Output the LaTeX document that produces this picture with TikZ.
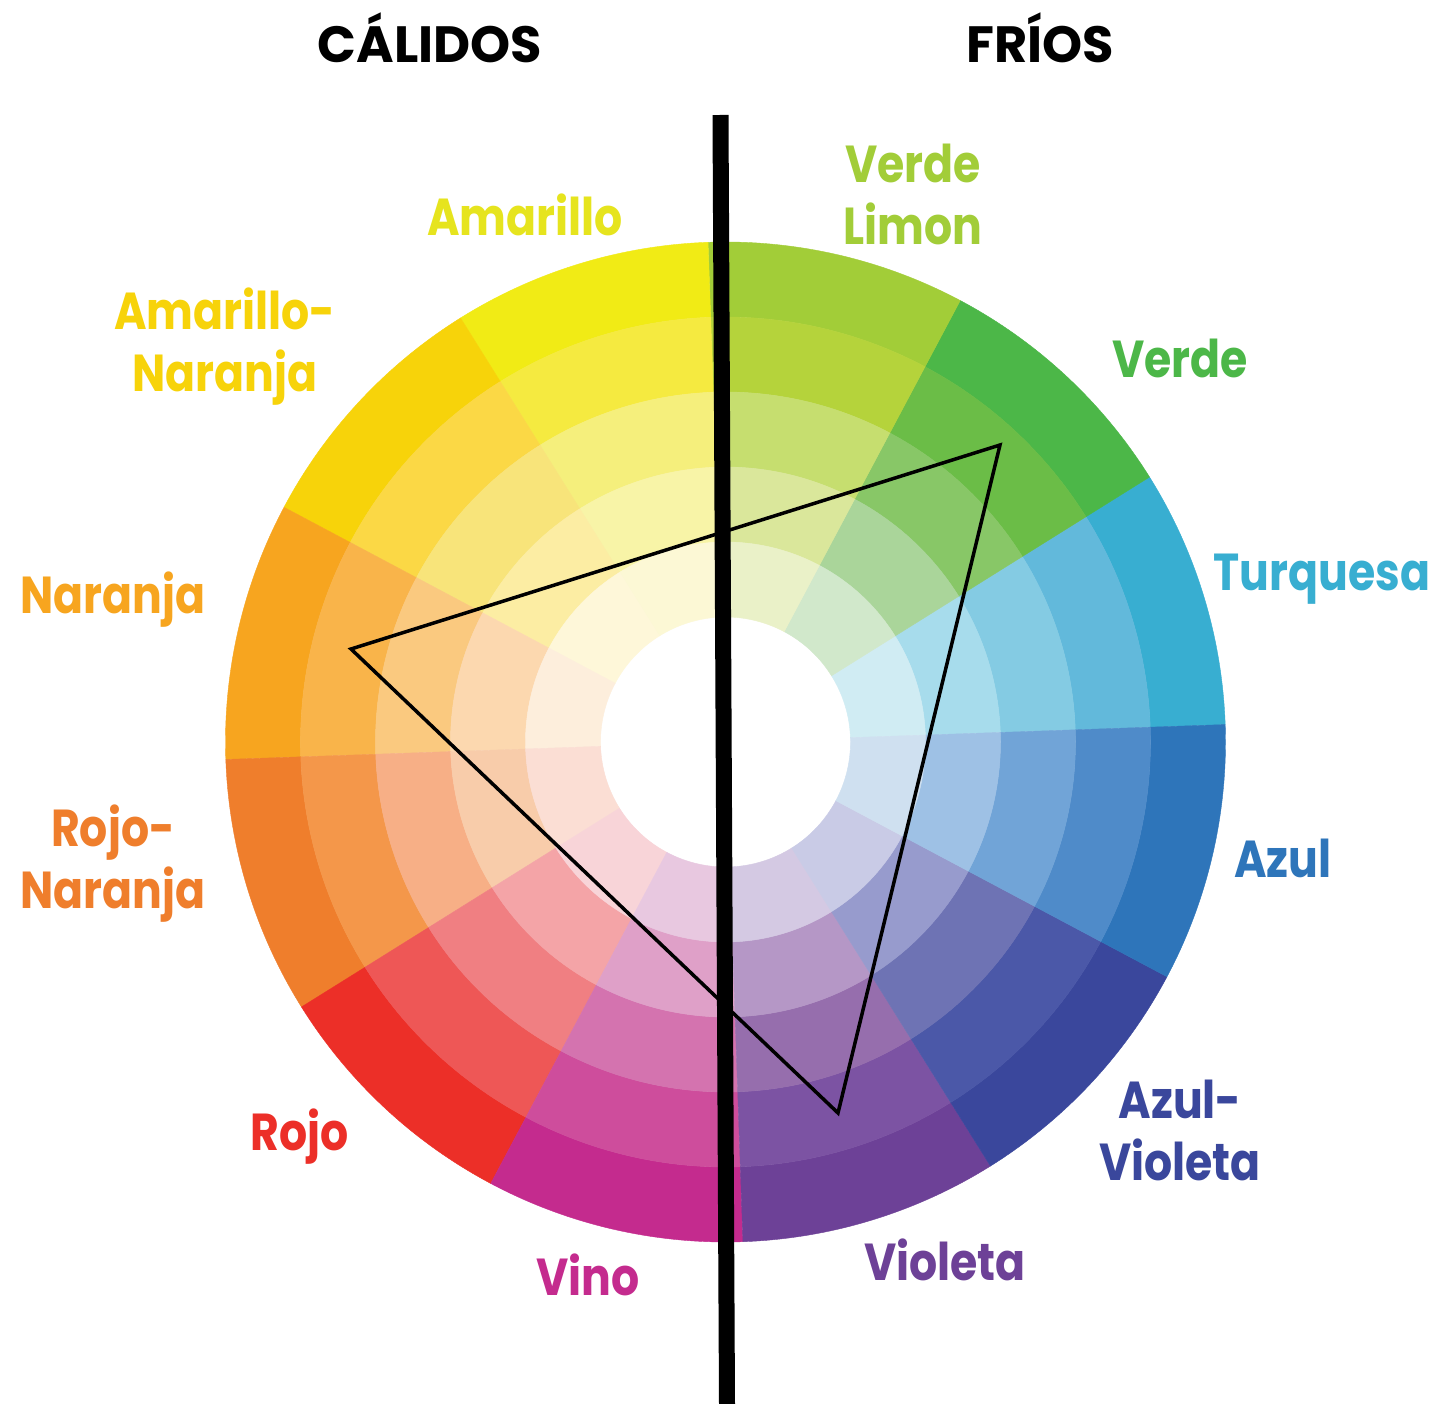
\documentclass[tikz,border=0pt]{standalone}
\usepackage{fontspec}
\setmainfont{Poppins}[FakeStretch=0.85]
\newfontfamily\titlefont{Poppins}
% ring colours: s<segment>r<ring>, ring 1 = outer
\definecolor{s0r1}{HTML}{38AED1}\definecolor{s0r2}{HTML}{62B9DB}\definecolor{s0r3}{HTML}{84CBE3}\definecolor{s0r4}{HTML}{A7DCEC}\definecolor{s0r5}{HTML}{D0ECF3}
\definecolor{s1r1}{HTML}{4CB748}\definecolor{s1r2}{HTML}{6BBD47}\definecolor{s1r3}{HTML}{88C767}\definecolor{s1r4}{HTML}{AAD59A}\definecolor{s1r5}{HTML}{D1E8CB}
\definecolor{s2r1}{HTML}{A2CD38}\definecolor{s2r2}{HTML}{B5D33B}\definecolor{s2r3}{HTML}{C6DE6F}\definecolor{s2r4}{HTML}{DAE79B}\definecolor{s2r5}{HTML}{EAF1C8}
\definecolor{s3r1}{HTML}{F1EB15}\definecolor{s3r2}{HTML}{F5EA40}\definecolor{s3r3}{HTML}{F5EF7C}\definecolor{s3r4}{HTML}{F8F4A7}\definecolor{s3r5}{HTML}{FCF8D5}
\definecolor{s4r1}{HTML}{F7D30A}\definecolor{s4r2}{HTML}{FBD845}\definecolor{s4r3}{HTML}{F8E47A}\definecolor{s4r4}{HTML}{FCEDA3}\definecolor{s4r5}{HTML}{FEF7D9}
\definecolor{s5r1}{HTML}{F7A51F}\definecolor{s5r2}{HTML}{F9B44A}\definecolor{s5r3}{HTML}{FAC97F}\definecolor{s5r4}{HTML}{FCD8AF}\definecolor{s5r5}{HTML}{FDEEDC}
\definecolor{s6r1}{HTML}{EF7E2C}\definecolor{s6r2}{HTML}{F4974A}\definecolor{s6r3}{HTML}{F7AF86}\definecolor{s6r4}{HTML}{F8CCAA}\definecolor{s6r5}{HTML}{FBDED4}
\definecolor{s7r1}{HTML}{EC2F28}\definecolor{s7r2}{HTML}{EE5756}\definecolor{s7r3}{HTML}{F07F82}\definecolor{s7r4}{HTML}{F4A4A7}\definecolor{s7r5}{HTML}{F8D4D8}
\definecolor{s8r1}{HTML}{C42B8E}\definecolor{s8r2}{HTML}{CE4D9C}\definecolor{s8r3}{HTML}{D473AF}\definecolor{s8r4}{HTML}{DFA0C8}\definecolor{s8r5}{HTML}{E8C8E0}
\definecolor{s9r1}{HTML}{6D4197}\definecolor{s9r2}{HTML}{7C53A3}\definecolor{s9r3}{HTML}{966EAD}\definecolor{s9r4}{HTML}{B597C6}\definecolor{s9r5}{HTML}{D4C9E3}
\definecolor{s10r1}{HTML}{3A479C}\definecolor{s10r2}{HTML}{4B58A8}\definecolor{s10r3}{HTML}{6E73B4}\definecolor{s10r4}{HTML}{979BCD}\definecolor{s10r5}{HTML}{C9CBE6}
\definecolor{s11r1}{HTML}{2E75BA}\definecolor{s11r2}{HTML}{4F8BC9}\definecolor{s11r3}{HTML}{71A4D7}\definecolor{s11r4}{HTML}{9EC1E5}\definecolor{s11r5}{HTML}{CFE0F0}
\definecolor{amlbl}{HTML}{E6E41E}
\tikzset{
  lbl/.style={font=\fontsize{52}{62}\selectfont\bfseries, align=center, anchor=base, inner sep=0pt},
  ttl/.style={font=\titlefont\fontsize{51}{60}\selectfont\bfseries, anchor=base, inner sep=0pt, text=black},
  triline/.style={line width=3.5pt, line join=miter, draw=black},
  divbar/.style={line width=16pt, draw=black}
}
\begin{document}
\begin{tikzpicture}[x=1pt,y=-1pt]
\useasboundingbox (0,0) rectangle (1436,1404);
\fill[white] (0,0) rectangle (1436,1404);
\coordinate (O) at (725.5,742);
\begin{scope}[shift={(O)}, yscale=-1]
  \foreach \i in {0,...,11}{
    \pgfmathsetmacro\sa{2+30*\i}
    \pgfmathsetmacro\ea{32+30*\i}
    \foreach \j in {1,...,5}{
      \pgfmathsetmacro\ro{575-75*\j}
      \pgfmathsetmacro\ri{500-75*\j}
      \fill[fill=s\i r\j, draw=s\i r\j, line width=0.4pt]
        (\sa:\ro) arc[start angle=\sa, end angle=\ea, radius=\ro]
        -- (\ea:\ri) arc[start angle=\ea, end angle=\sa, radius=\ri] -- cycle;
    }
  }
\end{scope}
% triangle
\coordinate (t1) at (1000,445);
\coordinate (t2) at (351,649);
\coordinate (t3) at (838,1113);
\draw[triline] (t1) -- (t2) -- (t3) -- cycle;
% dividing bar
\coordinate (bt) at (720.5,115);
\coordinate (bb) at (727,1404);
\draw[divbar] (bt) -- (bb);
% titles
\node[ttl] (cal) at (430,63) {CÁLIDOS};
\node[ttl] (fri) at (1040,63) {FRÍOS};
% labels (anchor = baseline of last line)
\node[lbl, text=amlbl] (am) at (525,236) {Amarillo};
\node[lbl, text=s4r1] (amn) at (225,392) {Amarillo-\\Naranja};
\node[lbl, text=s5r1] (nar) at (113,613) {Naranja};
\node[lbl, text=s6r1] (rn) at (113,908) {Rojo-\\Naranja};
\node[lbl, text=s7r1] (roj) at (300,1150) {Rojo};
\node[lbl, text=s8r1] (vin) at (588,1295) {Vino};
\node[lbl, text=s9r1] (vio) at (945,1280) {Violeta};
\node[lbl, text=s10r1] (av) at (1180,1180) {Azul-\\Violeta};
\node[lbl, text=s11r1] (az) at (1283,877) {Azul};
\node[lbl, text=s0r1] (tur) at (1322,590) {Turquesa};
\node[lbl, text=s1r1] (ver) at (1180,378) {Verde};
\node[lbl, text=s2r1] (vl) at (913,245) {Verde\\Limon};
\end{tikzpicture}
\end{document}
